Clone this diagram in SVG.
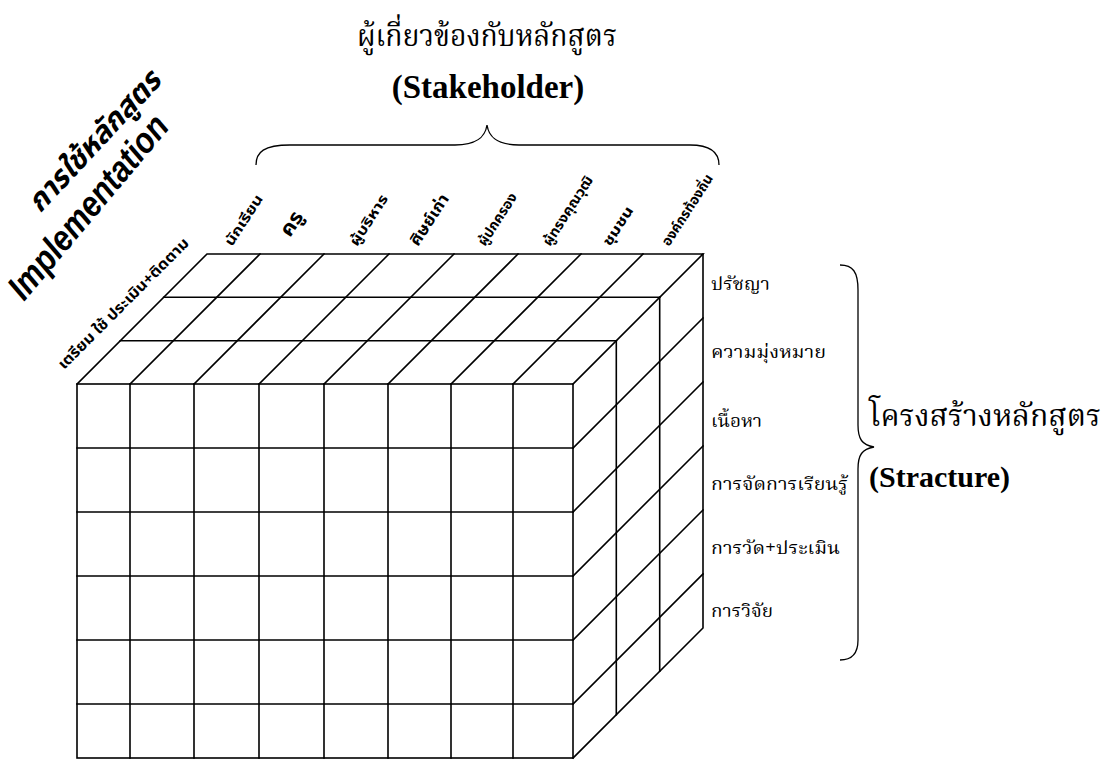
<svg xmlns="http://www.w3.org/2000/svg" width="1109" height="774" viewBox="0 0 1109 774">
<style>
.ln{stroke:#000;stroke-width:1.6;fill:none;stroke-linecap:square}
.br{stroke:#000;stroke-width:1.3;fill:none}
.th{font-family:"Noto Serif Thai","Noto Sans Thai","Liberation Serif",serif;fill:#000}
.ths{font-family:"Noto Sans Thai","Noto Serif Thai","Liberation Sans",sans-serif;fill:#000;font-weight:bold}
.en{font-family:"Liberation Serif",serif;font-weight:bold;fill:#000}
.ens{font-family:"Liberation Sans",sans-serif;font-weight:bold;font-style:italic;fill:#000}
</style>
<rect width="1109" height="774" fill="#fff"/>
<g id="cube" class="ln">
  <rect x="77" y="384" width="496" height="374"/>
  <path d="M130 384V758M194 384V758M259 384V758M324 384V758M388 384V758M451 384V758M513 384V758"/>
  <path d="M77 448H573M77 512H573M77 576H573M77 640H573M77 704H573"/>
  <path d="M77 384L207 254H703L573 384"/>
  <path d="M120.3 340.7H616.3M163.7 297.3H659.7"/>
  <path d="M130 384l130 -130M194 384l130 -130M259 384l130 -130M324 384l130 -130M388 384l130 -130M451 384l130 -130M513 384l130 -130"/>
  <path d="M703 254V628L573 758"/>
  <path d="M616.3 340.7V714.7M659.7 297.3V671.3"/>
  <path d="M573 448l130 -130M573 512l130 -130M573 576l130 -130M573 640l130 -130M573 704l130 -130"/>
</g>
<g id="stakeholder-title">
  <text class="th" x="487" y="46" font-size="30" text-anchor="middle" textLength="260" lengthAdjust="spacingAndGlyphs">ผู้เกี่ยวข้องกับหลักสูตร</text>
  <text class="en" x="488" y="98" font-size="33" text-anchor="middle">(Stakeholder)</text>
  <path class="br" d="M256 165C256 152 264 145 290 145L455 145C476 145 485 138 487 125C489 138 498 145 519 145L690 145C710 145 719 152 719 165"/>
</g>
<g id="stakeholder-labels">
  <text class="ths" font-size="14" transform="translate(232,247) rotate(-57)" textLength="58" lengthAdjust="spacingAndGlyphs">นักเรียน</text>
  <text class="ths" font-size="20" transform="translate(290,238) rotate(-57)" textLength="26" lengthAdjust="spacingAndGlyphs">ครู</text>
  <text class="ths" font-size="14" transform="translate(357,247) rotate(-57)" textLength="58" lengthAdjust="spacingAndGlyphs">ผู้บริหาร</text>
  <text class="ths" font-size="16" transform="translate(418,247) rotate(-57)" textLength="58" lengthAdjust="spacingAndGlyphs">ศิษย์เก่า</text>
  <text class="ths" font-size="14" transform="translate(485,247) rotate(-57)" textLength="60" lengthAdjust="spacingAndGlyphs">ผู้ปกครอง</text>
  <text class="ths" font-size="14" transform="translate(550,247) rotate(-57)" textLength="80" lengthAdjust="spacingAndGlyphs">ผู้ทรงคุณวุฒิ</text>
  <text class="ths" font-size="14" transform="translate(610,247) rotate(-57)" textLength="44" lengthAdjust="spacingAndGlyphs">ชุมชน</text>
  <text class="ths" font-size="14" transform="translate(669,247) rotate(-57)" textLength="82" lengthAdjust="spacingAndGlyphs">องค์กรท้องถิ่น</text>
</g>
<g id="implementation">
  <text class="ths" font-size="30" font-style="italic" transform="translate(40,214) rotate(-47)" textLength="180" lengthAdjust="spacingAndGlyphs">การใช้หลักสูตร</text>
  <text class="ens" font-size="36" transform="translate(24,302) rotate(-50)" textLength="228" lengthAdjust="spacingAndGlyphs">Implementation</text>
  <text class="ths" font-size="15" transform="translate(64,370) rotate(-45)" textLength="178" lengthAdjust="spacingAndGlyphs">เตรียม ใช้ ประเมิน+ติดตาม</text>
</g>
<g id="structure-labels" class="th" font-size="18">
  <text x="711" y="290" textLength="59" lengthAdjust="spacingAndGlyphs">ปรัชญา</text>
  <text x="711" y="358" textLength="115" lengthAdjust="spacingAndGlyphs">ความมุ่งหมาย</text>
  <text x="711" y="427" textLength="51" lengthAdjust="spacingAndGlyphs">เนื้อหา</text>
  <text x="711" y="490" textLength="137" lengthAdjust="spacingAndGlyphs">การจัดการเรียนรู้</text>
  <text x="711" y="554" textLength="129" lengthAdjust="spacingAndGlyphs">การวัด+ประเมิน</text>
  <text x="711" y="617" textLength="62" lengthAdjust="spacingAndGlyphs">การวิจัย</text>
</g>
<g id="structure-title">
  <path class="br" d="M840 265C853 265 858 272 858 290L858 425C858 439 862 445 874 447C862 449 858 455 858 469L858 640C858 653 853 660 840 660"/>
  <text class="th" x="869" y="426" font-size="30" textLength="232" lengthAdjust="spacingAndGlyphs">โครงสร้างหลักสูตร</text>
  <text class="en" x="869" y="487" font-size="30">(Stracture)</text>
</g>
</svg>
